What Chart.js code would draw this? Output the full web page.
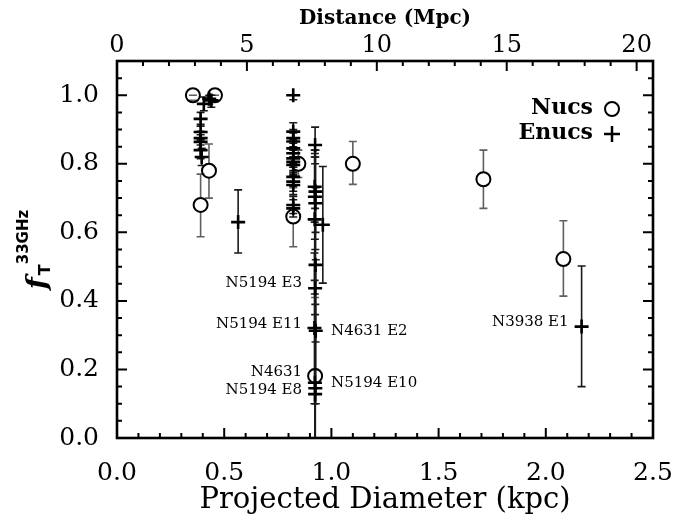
<!DOCTYPE html>
<html>
<head>
<meta charset="utf-8">
<script src="https://cdn.jsdelivr.net/npm/chart.js@4/dist/chart.umd.min.js"></script>
<style>
  html, body { margin: 0; padding: 0; background: #fff; }
</style>
</head>
<body>
<canvas id="fluxChart" width="699" height="521"></canvas>
<script>
// tick labels
const kpcTicks = [0, 0.5, 1.0, 1.5, 2.0, 2.5];
const mpcTicks = [0, 5, 10, 15, 20];
const fracTicks = [0, 0.2, 0.4, 0.6, 0.8, 1.0];

// nuclei (circles)
const nucX  = [0.354, 0.457, 0.390, 0.429, 0.846, 0.822, 1.100, 1.709, 2.082, 0.924];
const nucY  = [1.000, 1.000, 0.680, 0.780, 0.800, 0.646, 0.800, 0.755, 0.522, 0.181];
const nucLo = [0.985, 0.985, 0.587, 0.700, 0.760, 0.558, 0.740, 0.670, 0.414, -0.05];
const nucHi = [1.000, 1.000, 0.770, 0.858, 0.840, 0.730, 0.865, 0.840, 0.634, 0.410];

// extranuclear regions (plus signs)
const enuX = [
  0.430, 0.440, 0.405, 0.390, 0.390, 0.390, 0.390, 0.390, 0.395, 0.565,
  0.822, 0.822, 0.822, 0.822, 0.822, 0.822, 0.822, 0.822, 0.822, 0.822, 0.822, 0.822, 0.822, 0.822,
  0.924, 0.922, 0.926, 0.923, 0.925, 0.922, 0.926, 0.924, 0.921, 0.927, 0.923, 0.925, 0.924,
  0.960, 2.167
];
const enuY = [
  0.990, 0.985, 0.975, 0.931, 0.893, 0.875, 0.864, 0.840, 0.820, 0.630,
  1.000, 0.894, 0.875, 0.865, 0.845, 0.831, 0.816, 0.806, 0.797, 0.762, 0.748, 0.738, 0.680, 0.670,
  0.855, 0.733, 0.719, 0.704, 0.685, 0.638, 0.505, 0.437, 0.321, 0.313, 0.161, 0.145, 0.128,
  0.622, 0.325
];
const enuLo = [
  0.975, 0.965, 0.955, 0.910, 0.870, 0.855, 0.840, 0.815, 0.795, 0.540,
  0.987, 0.865, 0.850, 0.840, 0.820, 0.800, 0.790, 0.780, 0.770, 0.735, 0.720, 0.710, 0.655, 0.645,
  0.800, 0.630, 0.600, 0.580, 0.550, 0.460, 0.280, 0.200, 0.100, 0.100, -0.10, -0.10, -0.10,
  0.452, 0.150
];
const enuHi = [
  1.000, 1.000, 0.995, 0.950, 0.915, 0.895, 0.885, 0.865, 0.845, 0.724,
  1.000, 0.920, 0.900, 0.890, 0.870, 0.860, 0.840, 0.830, 0.820, 0.790, 0.775, 0.765, 0.705, 0.695,
  0.907, 0.840, 0.840, 0.830, 0.820, 0.820, 0.730, 0.670, 0.540, 0.520, 0.420, 0.390, 0.360,
  0.792, 0.502
];

// labelled sources
const noteText = ['N5194 E3', 'N5194 E11', 'N4631 E2', 'N4631', 'N5194 E8', 'N5194 E10', 'N3938 E1'];
const noteX    = [0.924, 0.924, 0.924, 0.924, 0.924, 0.924, 2.167];
const noteY    = [0.451, 0.333, 0.312, 0.193, 0.140, 0.161, 0.339];
const noteSide = ['left', 'left', 'right', 'left', 'left', 'right', 'left'];

const SERIF = 'DejaVu Serif';
const errLo = [nucLo, enuLo];
const errHi = [nucHi, enuHi];

// error bars under the symbols
const errorBars = {
  id: 'errorBars',
  beforeDatasetsDraw(chart) {
    const {ctx, chartArea: a, scales: {y}} = chart;
    ctx.save();
    ctx.beginPath();
    ctx.rect(a.left, a.top, a.right - a.left, a.bottom - a.top);
    ctx.clip();
    [0, 1].forEach(d => {
      const pts = chart.getDatasetMeta(d).data;
      ctx.strokeStyle = d === 0 ? '#606060' : '#1a1a1a';
      ctx.lineWidth = d === 0 ? 1.6 : 1.6;
      const gap = d === 0 ? 7 : 0;
      pts.forEach((p, i) => {
        const yl = y.getPixelForValue(errLo[d][i]);
        const yh = y.getPixelForValue(errHi[d][i]);
        ctx.beginPath();
        if (yh < p.y - gap) { ctx.moveTo(p.x, p.y - gap); ctx.lineTo(p.x, yh); }
        if (yl > p.y + gap) { ctx.moveTo(p.x, p.y + gap); ctx.lineTo(p.x, yl); }
        ctx.moveTo(p.x - 4, yh); ctx.lineTo(p.x + 4, yh);
        ctx.moveTo(p.x - 4, yl); ctx.lineTo(p.x + 4, yl);
        ctx.stroke();
      });
    });
    ctx.restore();
  }
};

// box with inward ticks, legend, annotations, y title
const decorations = {
  id: 'decorations',
  afterDraw(chart) {
    const {ctx, chartArea: a, scales} = chart;
    ctx.save();
    ctx.strokeStyle = '#000';
    ctx.lineWidth = 2;
    ctx.beginPath();
    for (let k = 0; k <= 25; k++) {
      const px = scales.x.getPixelForValue(k / 10);
      const len = k % 5 === 0 ? 10 : 5;
      ctx.moveTo(px, a.bottom); ctx.lineTo(px, a.bottom - len);
    }
    for (let k = 0; k <= 20; k++) {
      const px = scales.x2.getPixelForValue(k);
      const len = k % 5 === 0 ? 10 : 5;
      ctx.moveTo(px, a.top); ctx.lineTo(px, a.top + len);
    }
    for (let k = 0; k <= 22; k++) {
      const py = scales.y.getPixelForValue(k * 0.05);
      const len = k % 4 === 0 ? 10 : 5;
      ctx.moveTo(a.left, py); ctx.lineTo(a.left + len, py);
      ctx.moveTo(a.right, py); ctx.lineTo(a.right - len, py);
    }
    ctx.stroke();
    ctx.lineWidth = 2.6;
    ctx.strokeRect(a.left, a.top, a.right - a.left, a.bottom - a.top);

    // legend
    ctx.fillStyle = '#000';
    ctx.font = 'bold 22px "' + SERIF + '"';
    ctx.textAlign = 'right';
    ctx.textBaseline = 'middle';
    ctx.fillText('Nucs', a.right - 60, a.top + 47);
    ctx.fillText('Enucs', a.right - 60, a.top + 72);
    ctx.lineWidth = 2;
    ctx.beginPath();
    ctx.arc(a.right - 41, a.top + 48, 7, 0, Math.PI * 2);
    ctx.stroke();
    ctx.lineWidth = 2.5;
    ctx.beginPath();
    ctx.moveTo(a.right - 49, a.top + 73); ctx.lineTo(a.right - 33, a.top + 73);
    ctx.moveTo(a.right - 41, a.top + 65); ctx.lineTo(a.right - 41, a.top + 81);
    ctx.stroke();

    // source labels
    ctx.font = '15px "' + SERIF + '"';
    noteText.forEach((t, i) => {
      const px = scales.x.getPixelForValue(noteX[i]);
      const py = scales.y.getPixelForValue(noteY[i]);
      if (noteSide[i] === 'left') {
        ctx.textAlign = 'right';
        ctx.fillText(t, px - 13, py);
      } else {
        ctx.textAlign = 'left';
        ctx.fillText(t, px + 16, py);
      }
    });

    // y axis title: f_T^33GHz
    const fFont = 'bold italic 28px "' + SERIF + '"';
    const tFont = 'bold 16px "DejaVu Sans"';
    const sFont = 'bold 15px "DejaVu Sans"';
    ctx.font = fFont; const fw = ctx.measureText('f').width;
    ctx.font = tFont; const tw = ctx.measureText('T').width;
    ctx.font = sFont; const sw = ctx.measureText('33GHz').width;
    const total = fw + 2 + tw + sw;
    ctx.translate(46, (a.top + a.bottom) / 2 + total / 2);
    ctx.rotate(-Math.PI / 2);
    ctx.textAlign = 'left';
    ctx.textBaseline = 'alphabetic';
    ctx.font = fFont; ctx.fillText('f', 0, 0);
    ctx.font = tFont; ctx.fillText('T', fw + 2, 4);
    ctx.font = sFont; ctx.fillText('33GHz', fw + 2 + tw, -18);
    ctx.restore();
  }
};

new Chart('fluxChart', {
  type: 'scatter',
  data: {
    datasets: [{
      label: 'Nucs',
      data: nucX.map((x, i) => ({x: x, y: nucY[i]})),
      pointStyle: 'circle',
      pointRadius: 7,
      backgroundColor: 'rgba(0,0,0,0)',
      borderColor: '#000',
      borderWidth: 2
    }, {
      label: 'Enucs',
      data: enuX.map((x, i) => ({x: x, y: enuY[i]})),
      pointStyle: 'cross',
      pointRadius: 7,
      borderColor: '#000',
      borderWidth: 2.6
    }]
  },
  options: {
    responsive: false,
    animation: false,
    layout: { padding: { right: 46 } },
    plugins: {
      legend: { display: false },
      tooltip: { enabled: false }
    },
    scales: {
      x: {
        type: 'linear',
        position: 'bottom',
        min: 0,
        max: 2.5,
        afterBuildTicks: s => { s.ticks = kpcTicks.map(v => ({value: v})); },
        afterFit: s => { s.height = 83; },
        grid: { display: false },
        border: { display: false },
        ticks: {
          color: '#000',
          padding: 12,
          maxRotation: 0,
          autoSkip: false,
          font: { family: SERIF, size: 25 },
          callback: v => v.toFixed(1)
        },
        title: {
          display: true,
          text: 'Projected Diameter (kpc)',
          color: '#000',
          font: { family: SERIF, size: 29 },
          padding: { top: 0, bottom: 3 }
        }
      },
      x2: {
        type: 'linear',
        position: 'top',
        min: 0,
        max: 20.63,
        afterBuildTicks: s => { s.ticks = mpcTicks.map(v => ({value: v})); },
        afterFit: s => { s.height = 61; },
        grid: { display: false },
        border: { display: false },
        ticks: {
          color: '#000',
          padding: -7,
          maxRotation: 0,
          autoSkip: false,
          font: { family: SERIF, size: 24 }
        },
        title: {
          display: true,
          text: 'Distance (Mpc)',
          color: '#000',
          font: { family: SERIF, size: 20, weight: 'bold' },
          padding: { top: 7, bottom: 0 }
        }
      },
      y: {
        type: 'linear',
        min: 0,
        max: 1.1,
        afterBuildTicks: s => { s.ticks = fracTicks.map(v => ({value: v})); },
        afterFit: s => { s.width = 117; },
        grid: { display: false },
        border: { display: false },
        ticks: {
          color: '#000',
          padding: 10,
          font: { family: SERIF, size: 25 },
          callback: v => v.toFixed(1)
        }
      }
    }
  },
  plugins: [errorBars, decorations]
});
</script>
</body>
</html>
